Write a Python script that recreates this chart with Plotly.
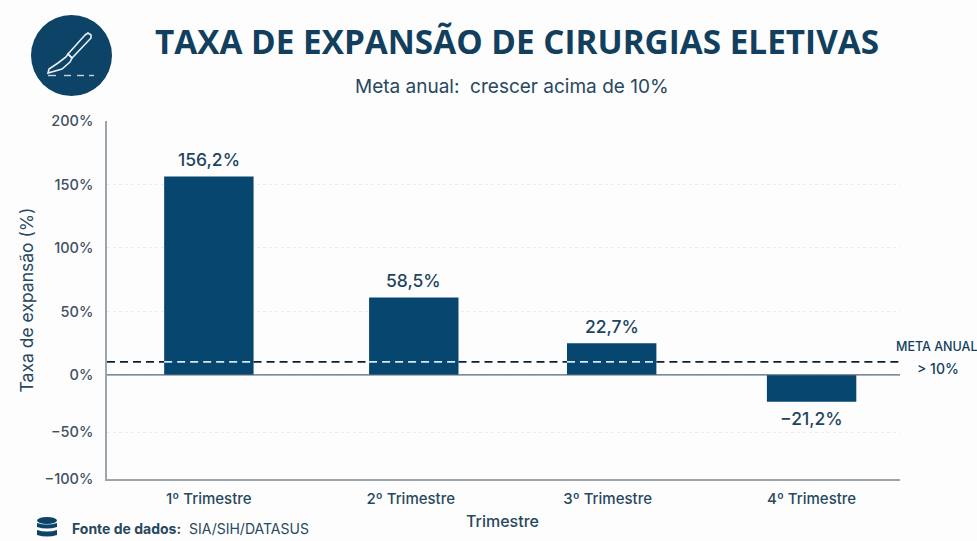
import plotly.graph_objects as go

# Data
categories = ["1º Trimestre", "2º Trimestre", "3º Trimestre", "4º Trimestre"]
# bar heights as drawn in the picture (the printed labels below are the reference's own text)
values = [156.2, 61, 25, -21.2]
value_labels = ["156,2%", "58,5%", "22,7%", "−21,2%"]
tick_labels = ["200%", "150%", "100%", "50%", "0%", "−50%", "−100%"]
# the reference's lower axis is compressed: labels sit at these drawn positions
tick_positions = [200, 150, 100, 50, 0, -45, -82]
# the reference's bars are not quite evenly spaced
bar_slots = [0, 1.02, 2.005, 3.0]
label_slots = [0, 1.005, 1.985, 3.0]
meta = 10.2

W, H = 977, 541
L, R, T, B = 107, 900, 121, 479
BAR_W = 0.445
X_MIN, X_MAX = -0.507, 3.44
NAVY = "#06466f"
DARK = "#123f5e"
GREY = "#3d5163"
FONT = "Inter"

def px(x): return (x - L) / (R - L)
def py(y): return (B - y) / (B - T)

fig = go.Figure()
fig.add_trace(go.Bar(
    x=bar_slots, y=values, width=BAR_W, marker=dict(color=NAVY, line=dict(width=0)),
    cliponaxis=False, hoverinfo="skip",
))
for c, v, t in zip(bar_slots, values, value_labels):
    fig.add_annotation(x=c, y=v, text=t, showarrow=False, yanchor="middle",
                       yshift=17 if v > 0 else -17,
                       font=dict(size=17.5, color="#1d4560", family=FONT, weight=500))

shapes = []
shapes.append(dict(type="line", xref="x domain", yref="y", x0=0, x1=1, y0=0, y1=0,
                   line=dict(color="#55687a", width=1.2), layer="above"))

# dashed goal line: dark on the background, light where it crosses a bar
def meta_segment(x0, x1, color):
    shapes.append(dict(type="line", xref="x", yref="y", x0=x0, x1=x1, y0=meta, y1=meta, layer="above",
                       line=dict(color=color, width=1.8, dash="8px,5px")))

cursor = X_MIN
for c, v in zip(bar_slots, values):
    if v > meta:
        meta_segment(cursor, c - BAR_W / 2, "#0c2133")
        meta_segment(c - BAR_W / 2, c + BAR_W / 2, "#d6e8f2")
        cursor = c + BAR_W / 2
meta_segment(cursor, X_MAX, "#0c2133")

# round icon
shapes.append(dict(type="circle", xref="paper", yref="paper", x0=px(31), x1=px(112), y0=py(96), y1=py(15),
                   fillcolor="#0d4366", line=dict(width=0)))

def path(pts, close=True):
    s = "M " + " L ".join(f"{px(a):.5f},{py(b):.5f}" for a, b in pts)
    return s + (" Z" if close else "")

white = dict(color="#e8eef2", width=1.6)
shapes.append(dict(type="path", xref="paper", yref="paper", line=white,
                   path=path([(85, 35), (88, 33), (91, 35), (91, 38), (72, 58), (68, 54)])))
shapes.append(dict(type="path", xref="paper", yref="paper", line=white,
                   path=path([(68, 54), (72, 58), (70, 62), (62, 69), (48, 73), (49, 69), (58, 63), (66, 57)])))
for a, b in [(48, 56), (64, 71), (77, 84), (89, 94)]:
    shapes.append(dict(type="line", xref="paper", yref="paper", x0=px(a), x1=px(b), y0=py(75.5), y1=py(75.5),
                       line=dict(color="#c9d5dd", width=1.4)))

# database icon
def band(x0, x1, y0, y1):
    m, d = (x0 + x1) / 2, 3
    return (f"M {px(x0):.5f},{py(y0):.5f} Q {px(m):.5f},{py(y0 + d):.5f} {px(x1):.5f},{py(y0):.5f} "
            f"L {px(x1):.5f},{py(y1):.5f} Q {px(m):.5f},{py(y1 + d):.5f} {px(x0):.5f},{py(y1):.5f} Z")
shapes.append(dict(type="circle", xref="paper", yref="paper", x0=px(37), x1=px(57), y0=py(524), y1=py(517),
                   fillcolor="#0d4366", line=dict(width=0)))
for y0, y1 in [(523, 527), (530, 535)]:
    shapes.append(dict(type="path", xref="paper", yref="paper", path=band(37, 57, y0, y1),
                       fillcolor="#0d4366", line=dict(width=0)))

def note(x, y, text, size, color, weight=400, anchor="center", family=FONT):
    fig.add_annotation(xref="paper", yref="paper", x=px(x), y=py(y), text=text,
                       showarrow=False, xanchor=anchor, yanchor="middle",
                       font=dict(size=size, color=color, family=family, weight=weight))

note(517, 41, "TAXA DE EXPANSÃO DE CIRURGIAS ELETIVAS", 33.3, DARK, weight=700, family="Open Sans")
note(512, 86, "Meta anual:  crescer acima de 10%", 19, "#27485f")
note(936, 346, "META ANUAL", 12.5, DARK, weight=500)
note(938, 368, "&gt; 10%", 14, DARK, weight=500)
note(502, 521, "Trimestre", 16, "#27485f", weight=500)
note(70, 528, "<b>Fonte de dados:</b>  SIA/SIH/DATASUS", 14, "#27485f", anchor="left")

fig.update_layout(
    width=W, height=H, paper_bgcolor="#fdfdfd", plot_bgcolor="#fdfdfd",
    margin=dict(l=L, r=W - R, t=T, b=H - B, pad=0),
    showlegend=False, shapes=shapes, font=dict(family=FONT, color=GREY),
    xaxis=dict(range=[X_MIN, X_MAX], showgrid=False, zeroline=False, ticks="",
               tickmode="array", tickvals=label_slots, ticktext=categories,
               tickfont=dict(size=15, color="#27485f", weight=500),
               showline=True, linecolor="#9aa5ad", linewidth=1.5, anchor="y", ticklabelstandoff=5),
    yaxis=dict(range=[-82, 200], tickmode="array", tickvals=tick_positions, ticktext=tick_labels,
               tickfont=dict(size=14.5, color=GREY, weight=500), showgrid=True, gridcolor="#e9ebed", griddash="dot",
               gridwidth=1, zeroline=False, showline=True, linecolor="#9aa5ad", linewidth=1.5, ticks="",
               ticklabelstandoff=9,
               title=dict(text="Taxa de expansão (%)", font=dict(size=17.5, color="#27485f"), standoff=6)),
)
fig.write_html("out.html", config=dict(displayModeBar=False),
               post_script="document.body.style.margin='0';window.dispatchEvent(new Event('resize'));")
